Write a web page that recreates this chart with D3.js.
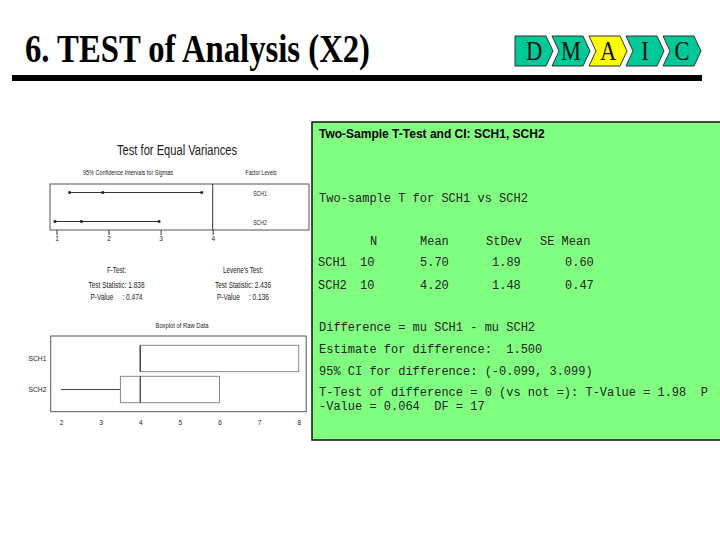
<!DOCTYPE html>
<html><head><meta charset="utf-8">
<script src="https://cdn.jsdelivr.net/npm/d3@7"></script>
<style>html,body{margin:0;padding:0;background:#fff;} svg{display:block;} .pre{white-space:pre;}</style>
</head><body>
<svg id="c" width="720" height="540"></svg>
<script>
// ---------- data ----------
const titleText = "6. TEST of Analysis (X2)";
const phases = ["D", "M", "A", "I", "C"];
const activePhase = "A";

const groups = ["SCH1", "SCH2"];
const ciLower = [1.25, 0.97];
const ciSigma = [1.89, 1.48];
const ciUpper = [3.79, 2.97];
const ciTicks = [1, 2, 3, 4];

const testNames = ["F-Test:", "Levene's Test:"];
const testStats = ["1.838", "2.436"];
const testPValues = ["0.474", "0.136"];

const boxMin = [4, 2];
const boxQ1 = [4, 3.5];
const boxMedian = [4, 4];
const boxQ3 = [8, 6];
const boxMax = [8, 6];
const boxTicks = [2, 3, 4, 5, 6, 7, 8];

const tableHeaders = ["N", "Mean", "StDev", "SE Mean"];
const sampleN = ["10", "10"];
const sampleMean = ["5.70", "4.20"];
const sampleStDev = ["1.89", "1.48"];
const sampleSEMean = ["0.60", "0.47"];

const outputTitle = "Two-Sample T-Test and CI: SCH1, SCH2";
const outputIntro = "Two-sample T for SCH1 vs SCH2";
const outputLines = [
  "Difference = mu SCH1 - mu SCH2",
  "Estimate for difference:  1.500",
  "95% CI for difference: (-0.099, 3.099)",
  "T-Test of difference = 0 (vs not =): T-Value = 1.98  P",
  "-Value = 0.064  DF = 17"
];

// ---------- drawing ----------
const svg = d3.select("#c");
const NARROW = "'Liberation Sans Narrow','Arial Narrow','Liberation Sans',Arial,sans-serif";
const MONO = "'Liberation Mono','Courier New',monospace";
const SERIF = "'Liberation Serif','Times New Roman',serif";

function ntext(g, x, y, str, size, width, anchor) {
  const t = g.append("text").attr("x", x).attr("y", y).text(str)
    .attr("font-family", NARROW).attr("font-size", size).attr("fill", "#222")
    .attr("text-anchor", anchor || "middle");
  if (width) t.attr("textLength", width).attr("lengthAdjust", "spacingAndGlyphs");
  return t;
}

// Title
svg.append("text").attr("transform", "translate(25,62) scale(1,1.27)")
  .attr("font-family", SERIF).attr("font-weight", "bold").attr("font-size", 32)
  .attr("textLength", 345).attr("lengthAdjust", "spacingAndGlyphs")
  .attr("fill", "#000").text(titleText);

// rule
svg.append("rect").attr("x", 12).attr("y", 75).attr("width", 690).attr("height", 6).attr("fill", "#000");

// DMAIC chevrons
const chevX = d3.scalePoint().domain(phases).range([515, 663]);
const cw = 31, cd = 7, ctop = 36, cbot = 66, cmid = 51;
const chev = svg.append("g").selectAll("g").data(phases).join("g");
chev.append("path")
  .attr("d", (p, i) => {
    const x0 = chevX(p);
    const pts = [[x0, ctop], [x0 + cw, ctop], [x0 + cw + cd, cmid], [x0 + cw, cbot], [x0, cbot]];
    if (i > 0) pts.push([x0 + cd, cmid]);
    return "M" + pts.map(q => q.join(",")).join("L") + "Z";
  })
  .attr("fill", p => p === activePhase ? "#ffff00" : "#00c896")
  .attr("stroke", "#333").attr("stroke-width", 1);
chev.append("text")
  .attr("transform", p => `translate(${chevX(p) + 19},60) scale(1,1.19)`)
  .attr("text-anchor", "middle").attr("font-family", SERIF).attr("font-size", 22.5)
  .attr("fill", "#111").text(p => p);

// ---------- Test for equal variances ----------
const left = svg.append("g");
ntext(left, 177, 155, "Test for Equal Variances", 14, 120);
ntext(left, 128, 175, "95% Confidence Intervals for Sigmas", 6.5, 90);
ntext(left, 261, 175, "Factor Levels", 6.5, 31);

const ciX = d3.scaleLinear().domain([1, 4]).range([56.5, 212.7]);
const ciY = d3.scalePoint().domain(groups).range([192.5, 221.5]);
// frame
left.append("rect").attr("x", 50).attr("y", 184).attr("width", 259).attr("height", 46)
  .attr("fill", "none").attr("stroke", "#555").attr("stroke-width", 1);
left.append("line").attr("x1", ciX(4)).attr("x2", ciX(4)).attr("y1", 184).attr("y2", 230)
  .attr("stroke", "#333");
const ciAxis = left.append("g").attr("transform", "translate(0,230)")
  .call(d3.axisBottom(ciX).tickValues(ciTicks).tickSize(5).tickPadding(1).tickFormat(d3.format("d")));
ciAxis.select(".domain").remove();
ciAxis.selectAll("line").attr("stroke", "#333");
ciAxis.selectAll("text").attr("font-family", NARROW).attr("font-size", 6.5).attr("fill", "#222");

const ciRows = left.append("g").selectAll("g").data(groups).join("g");
ciRows.append("line")
  .attr("x1", (g, i) => ciX(ciLower[i])).attr("x2", (g, i) => ciX(ciUpper[i]))
  .attr("y1", g => ciY(g)).attr("y2", g => ciY(g)).attr("stroke", "#333").attr("stroke-width", 1);
ciRows.each(function (g, i) {
  d3.select(this).selectAll("rect").data([ciLower[i], ciSigma[i], ciUpper[i]]).join("rect")
    .attr("x", v => ciX(v) - 1.3).attr("y", ciY(g) - 1.3).attr("width", 2.6).attr("height", 2.6)
    .attr("fill", "#222");
});
ciRows.append("text").attr("x", 260).attr("y", g => ciY(g) + 3)
  .attr("text-anchor", "middle").attr("font-family", NARROW).attr("font-size", 7)
  .attr("fill", "#222").attr("textLength", 13.5).attr("lengthAdjust", "spacingAndGlyphs")
  .text(g => g);

// test statistics
const testCx = [116.5, 243];
testNames.forEach((n, i) => {
  ntext(left, testCx[i], 273.3, n, 9.5, i === 0 ? 19 : 40);
  ntext(left, testCx[i], 287.7, "Test Statistic: " + testStats[i], 9.5, 56);
  ntext(left, testCx[i], 300, "P-Value     : " + testPValues[i], 9.5, 52).classed("pre", true);
});

// ---------- Boxplot of raw data ----------
ntext(left, 182, 327.5, "Boxplot of Raw Data", 6.5, 53);
const bx = d3.scaleLinear().domain([2, 8]).range([61, 298.7]);
const by = d3.scaleBand().domain(groups).range([336, 412]).paddingInner(0.15).paddingOuter(0.3);
left.append("rect").attr("x", 50.7).attr("y", 336).attr("width", 255.5).attr("height", 75.7)
  .attr("fill", "none").attr("stroke", "#555").attr("stroke-width", 1);
const bAxis = left.append("g").attr("transform", "translate(0,411.7)")
  .call(d3.axisBottom(bx).tickValues(boxTicks).tickSize(0).tickPadding(9).tickFormat(d3.format("d")));
bAxis.select(".domain").remove();
bAxis.selectAll("text").attr("font-family", NARROW).attr("font-size", 6.5).attr("fill", "#222");

const boxes = left.append("g").selectAll("g").data(groups).join("g");
boxes.append("line")
  .attr("x1", (g, i) => bx(boxMin[i])).attr("x2", (g, i) => bx(boxQ1[i]))
  .attr("y1", g => by(g) + by.bandwidth() / 2).attr("y2", g => by(g) + by.bandwidth() / 2)
  .attr("stroke", "#444");
boxes.append("line")
  .attr("x1", (g, i) => bx(boxQ3[i])).attr("x2", (g, i) => bx(boxMax[i]))
  .attr("y1", g => by(g) + by.bandwidth() / 2).attr("y2", g => by(g) + by.bandwidth() / 2)
  .attr("stroke", "#444");
boxes.append("rect")
  .attr("x", (g, i) => bx(boxQ1[i])).attr("width", (g, i) => bx(boxQ3[i]) - bx(boxQ1[i]))
  .attr("y", g => by(g)).attr("height", by.bandwidth())
  .attr("fill", "none").attr("stroke", "#888").attr("stroke-width", 1);
boxes.append("line")
  .attr("x1", (g, i) => bx(boxMedian[i])).attr("x2", (g, i) => bx(boxMedian[i]))
  .attr("y1", g => by(g)).attr("y2", g => by(g) + by.bandwidth())
  .attr("stroke", "#333").attr("stroke-width", 1.2);
boxes.append("text").attr("x", 37.5).attr("y", g => by(g) + by.bandwidth() / 2 + 2.5)
  .attr("text-anchor", "middle").attr("font-family", NARROW).attr("font-size", 6.5)
  .attr("fill", "#222").attr("textLength", 18).attr("lengthAdjust", "spacingAndGlyphs")
  .text(g => g);

// ---------- Session output box ----------
const out = svg.append("g");
out.append("rect").attr("x", 312).attr("y", 122).attr("width", 420).attr("height", 318)
  .attr("fill", "#80ff80").attr("stroke", "#111").attr("stroke-width", 1.5);
out.append("text").attr("x", 319).attr("y", 138)
  .attr("font-family", "'Liberation Sans',Arial,sans-serif").attr("font-weight", "bold")
  .attr("font-size", 12).attr("fill", "#000").text(outputTitle);

function mono(x, y, s) {
  return out.append("text").attr("x", x).attr("y", y).attr("class", "pre")
    .attr("font-family", MONO).attr("font-size", 12).attr("fill", "#222").text(s);
}
mono(319, 202, outputIntro);

const headerX = [370, 420, 486, 540];
tableHeaders.forEach((h, j) => mono(headerX[j], 245, h));
const rowY = d3.scalePoint().domain(groups).range([266, 288.5]);
const cellX = [318, 360, 420, 492, 565];
groups.forEach((g, i) => {
  [g, sampleN[i], sampleMean[i], sampleStDev[i], sampleSEMean[i]]
    .forEach((v, j) => mono(cellX[j], rowY(g), v));
});
const lineY = [331, 353, 374.5, 396, 410];
outputLines.forEach((s, i) => mono(319, lineY[i], s));
</script>
</body></html>
